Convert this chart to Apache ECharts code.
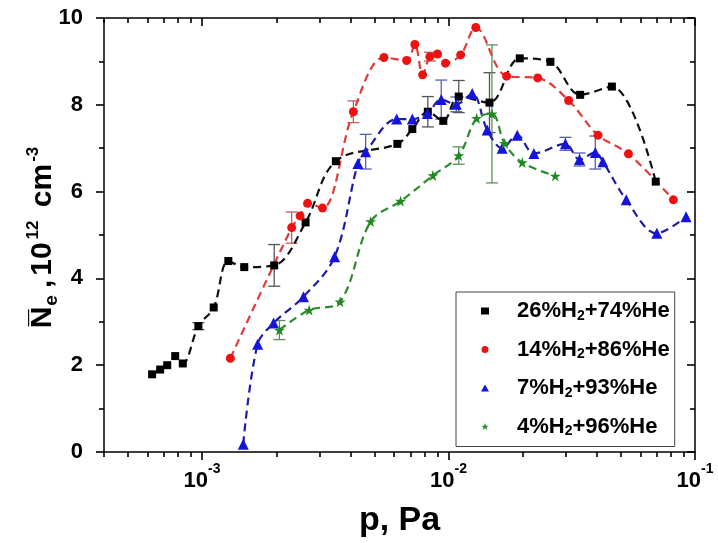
<!DOCTYPE html>
<html>
<head>
<meta charset="utf-8">
<script src="https://cdn.jsdelivr.net/npm/echarts@6/dist/echarts.min.js"></script>
<style>
  html, body { margin: 0; padding: 0; background: #fff; }
  #chart { width: 718px; height: 543px; }
</style>
</head>
<body>
<div id="chart"></div>
<script>
// pressure, Pa and mean electron density, 10^12 cm^-3
const names = ['26%H2+74%He', '14%H2+86%He', '7%H2+93%He', '4%H2+96%He'];

const p26 = [6.27e-4, 6.76e-4, 7.22e-4, 7.78e-4, 8.35e-4, 9.66e-4, 1.115e-3, 1.278e-3, 1.483e-3, 1.962e-3, 2.63e-3, 3.49e-3, 6.20e-3, 7.13e-3, 8.24e-3, 9.52e-3, 1.10e-2, 1.466e-2, 1.945e-2, 2.59e-2, 3.42e-2, 4.60e-2, 6.93e-2];
const n26 = [1.79, 1.90, 2.00, 2.21, 2.04, 2.90, 3.33, 4.40, 4.26, 4.30, 5.29, 6.70, 7.10, 7.44, 7.84, 7.63, 8.19, 8.05, 9.07, 8.99, 8.23, 8.42, 6.23];

const p14 = [1.302e-3, 2.31e-3, 2.50e-3, 2.68e-3, 3.08e-3, 4.11e-3, 5.47e-3, 6.76e-3, 7.30e-3, 7.85e-3, 8.40e-3, 9.02e-3, 9.72e-3, 1.12e-2, 1.29e-2, 1.72e-2, 2.30e-2, 3.07e-2, 4.04e-2, 5.37e-2, 8.17e-2];
const n14 = [2.16, 5.17, 5.44, 5.73, 5.62, 7.84, 9.09, 9.02, 9.39, 8.69, 9.11, 9.17, 8.96, 9.15, 9.78, 8.66, 8.62, 8.10, 7.30, 6.87, 5.81];

const p7 = [1.469e-3, 1.68e-3, 1.95e-3, 2.58e-3, 3.45e-3, 4.29e-3, 4.61e-3, 6.16e-3, 7.13e-3, 8.20e-3, 9.34e-3, 1.075e-2, 1.247e-2, 1.435e-2, 1.65e-2, 1.90e-2, 2.22e-2, 2.98e-2, 3.40e-2, 3.94e-2, 4.23e-2, 5.26e-2, 7.00e-2, 9.20e-2];
const n7 = [0.18, 2.48, 2.97, 3.58, 4.50, 6.65, 6.92, 7.67, 7.67, 7.80, 8.12, 8.01, 8.26, 7.42, 7.00, 7.30, 6.88, 7.10, 6.74, 6.90, 6.69, 5.81, 5.04, 5.42];

const p4 = [2.06e-3, 2.72e-3, 3.63e-3, 4.83e-3, 6.39e-3, 8.64e-3, 1.10e-2, 1.30e-2, 1.50e-2, 1.69e-2, 1.99e-2, 2.71e-2];
const n4 = [2.81, 3.27, 3.46, 5.31, 5.78, 6.37, 6.83, 7.69, 7.79, 7.11, 6.67, 6.36];

// error bars: [p, N, half height]
const err26 = [[9.66e-4, 2.90, 0.08], [1.962e-3, 4.30, 0.48], [8.24e-3, 7.84, 0.35], [1.10e-2, 8.19, 0.37], [1.466e-2, 8.05, 0.69]];
const err14 = [[2.31e-3, 5.17, 0.36], [4.11e-3, 7.84, 0.25], [8.40e-3, 9.11, 0.10]];
const err7 = [[4.61e-3, 6.92, 0.40], [9.34e-3, 8.12, 0.45], [1.075e-2, 8.01, 0.17], [2.98e-2, 7.10, 0.15], [3.40e-2, 6.74, 0.15], [3.94e-2, 6.90, 0.38]];
const err4 = [[2.06e-3, 2.81, 0.22], [1.10e-2, 6.83, 0.20], [1.50e-2, 7.79, 1.59]];

// axis
const pMin = 4e-4, pMax = 0.1;
const xMajor = [1e-3, 1e-2, 1e-1];
const xMinorMant = [2, 3, 4, 5, 6, 7, 8, 9];

const FONT = 'Liberation Sans';
const STAR = 'path://M50,0 L61.8,35.5 L100,35.5 L69.1,57.4 L80.9,93 L50,71 L19.1,93 L30.9,57.4 L0,35.5 L38.2,35.5 Z';

const lg = v => Math.log10(v);
let xMinor = [];
[-4, -3, -2].forEach(e => {
  xMinorMant.forEach(m => {
    let v = m * Math.pow(10, e);
    if (v >= pMin * 0.999 && v <= pMax) xMinor.push(lg(v));
  });
});

function pairs(ps, ns) {
  return ps.map((p, i) => [lg(p), ns[i]]);
}

function lineSeries(name, ps, ns, symbol, size, dotColor, lineColor) {
  return {
    name: name,
    type: 'line',
    data: pairs(ps, ns),
    smooth: 0.35,
    symbol: symbol,
    symbolSize: size,
    itemStyle: { color: dotColor },
    lineStyle: { color: lineColor, width: 2.2, type: [8, 5] },
    z: 3
  };
}

function errSeries(data, color) {
  return {
    type: 'custom',
    data: data.map(d => [lg(d[0]), d[1], d[2]]),
    z: 2,
    silent: true,
    renderItem: function (params, api) {
      let x = api.value(0), y = api.value(1), e = api.value(2);
      let top = api.coord([x, y + e]);
      let bot = api.coord([x, y - e]);
      let w = 6;
      let st = { stroke: color, lineWidth: 1.3 };
      return {
        type: 'group',
        children: [
          { type: 'line', shape: { x1: top[0], y1: top[1], x2: bot[0], y2: bot[1] }, style: st },
          { type: 'line', shape: { x1: top[0] - w, y1: top[1], x2: top[0] + w, y2: top[1] }, style: st },
          { type: 'line', shape: { x1: bot[0] - w, y1: bot[1], x2: bot[0] + w, y2: bot[1] }, style: st }
        ]
      };
    }
  };
}

function xAxisDef(position, ticks, len, inside, showLabel) {
  return {
    type: 'value',
    position: position,
    min: lg(pMin),
    max: lg(pMax),
    axisLine: { show: false },
    axisTick: { show: true, inside: inside, length: len, customValues: ticks, lineStyle: { color: '#000', width: 1.6 } },
    axisLabel: {
      show: showLabel,
      customValues: xMajor.map(lg),
      margin: 10,
      formatter: v => '{b|10}{s|' + Math.round(v) + '}',
      rich: {
        b: { fontFamily: FONT, fontWeight: 'bold', fontSize: 22, color: '#000', lineHeight: 30, verticalAlign: 'bottom' },
        s: { fontFamily: FONT, fontWeight: 'bold', fontSize: 14, color: '#000', verticalAlign: 'top', lineHeight: 14 }
      }
    },
    splitLine: { show: false }
  };
}

function yAxisDef(position, inside, showLabel) {
  return {
    type: 'value',
    position: position,
    min: 0,
    max: 10,
    interval: 2,
    axisLine: { show: false },
    axisTick: { show: true, inside: inside, length: 8, lineStyle: { color: '#000', width: 1.6 } },
    minorTick: { show: true, splitNumber: 2, length: 5, lineStyle: { color: '#000', width: 1.6 } },
    axisLabel: { show: showLabel, margin: 21, fontFamily: FONT, fontWeight: 'bold', fontSize: 22, color: '#000' },
    splitLine: { show: false }
  };
}

let chart = echarts.init(document.getElementById('chart'));
let xTop = xAxisDef('top', xMajor.map(lg), 8, true, false);
let xTopMinor = xAxisDef('top', xMinor, 5, true, false);
let xBot = xAxisDef('bottom', xMajor.map(lg), 8, false, true);
let xBotMinor = xAxisDef('bottom', xMinor, 5, false, false);
xBot.name = 'p, Pa';
xBot.nameLocation = 'middle';
xBot.nameGap = 52;
xBot.nameMoveOverlap = false;
xBot.nameTextStyle = { fontFamily: FONT, fontWeight: 'bold', fontSize: 34, color: '#000' };

let yLeft = yAxisDef('left', false, true);
yLeft.name = '{n|N\u0305}{sub|e}{t|,}{u|10}{sup|12}{t| cm}{sup|-3}';
yLeft.nameLocation = 'middle';
yLeft.nameRotate = 90;
yLeft.nameGap = 43;
yLeft.nameMoveOverlap = false;
const nameBase = { fontFamily: FONT, fontWeight: 'bold', color: '#000' };
yLeft.nameTextStyle = {
  rich: {
    n: Object.assign({ fontSize: 30, lineHeight: 36 }, nameBase),
    t: Object.assign({ fontSize: 30, lineHeight: 36 }, nameBase),
    u: Object.assign({ fontSize: 30, lineHeight: 36, padding: [0, 1, 0, 4] }, nameBase),
    sub: Object.assign({ fontSize: 19, verticalAlign: 'bottom', lineHeight: 19, padding: [0, 7, 0, 1] }, nameBase),
    sup: Object.assign({ fontSize: 17, verticalAlign: 'top', lineHeight: 17, padding: [0, 5, 0, 2] }, nameBase)
  }
};
let yRight = yAxisDef('right', true, false);

option = {
  animation: false,
  backgroundColor: '#fff',
  grid: { left: 104, right: 23, top: 18, bottom: 91, show: true, borderColor: '#000', borderWidth: 1.5 },
  xAxis: [xBot, xBotMinor, xTop, xTopMinor],
  yAxis: [yLeft, yRight],
  legend: {
    orient: 'vertical',
    left: 456,
    top: 292,
    padding: [7, 5, 8, 25],
    itemGap: 14.5,
    itemWidth: 8,
    itemHeight: 7,
    borderColor: '#444',
    borderWidth: 1,
    borderRadius: 0,
    data: [
      { name: names[0], icon: 'rect' },
      { name: names[1], icon: 'circle' },
      { name: names[2], icon: 'triangle' },
      { name: names[3], icon: STAR }
    ],
    formatter: name => '{g|}' + name.replace('H2', 'H{sub|2}'),
    textStyle: {
      fontFamily: FONT, fontWeight: 'bold', fontSize: 22, color: '#000', lineHeight: 24,
      rich: {
        g: { width: 23 },
        sub: { fontFamily: FONT, fontWeight: 'bold', fontSize: 14, color: '#000', verticalAlign: 'bottom', lineHeight: 14 }
      }
    }
  },
  series: [
    errSeries(err26, '#555'),
    errSeries(err14, '#c86060'),
    errSeries(err7, '#5560b0'),
    errSeries(err4, '#5f8f5f'),
    lineSeries(names[0], p26, n26, 'rect', 8, '#000', '#111'),
    lineSeries(names[1], p14, n14, 'circle', 9, '#ee1111', '#e23a3a'),
    lineSeries(names[2], p7, n7, 'triangle', 11, '#1414dd', '#1c1ca8'),
    lineSeries(names[3], p4, n4, STAR, 11, '#1f8a1f', '#2e8b2e')
  ]
};
chart.setOption(option);
</script>
</body>
</html>
